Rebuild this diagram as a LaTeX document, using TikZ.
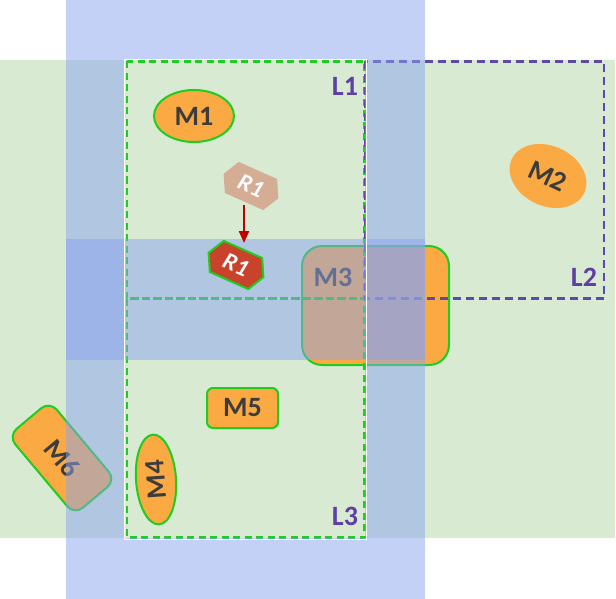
\documentclass[tikz,border=0pt]{standalone}
\usepackage{fontspec}
\setmainfont{Carlito}
\usetikzlibrary{shapes.geometric,arrows.meta}
\definecolor{bggreen}{HTML}{D9EAD3}
\definecolor{bandblue}{HTML}{8AA4EF}
\definecolor{morange}{HTML}{FBA942}
\definecolor{mgreen}{HTML}{1FCC1F}
\definecolor{mtext}{HTML}{3C3C3C}
\definecolor{lpurple}{HTML}{5E3FA3}
\definecolor{ldash}{HTML}{5D4AA8}
\definecolor{rghost}{HTML}{D5AD94}
\definecolor{rred}{HTML}{C9432A}
\definecolor{arrowred}{HTML}{C00000}
\begin{document}
\begin{tikzpicture}[x=1pt,y=-1pt,
  band/.style={fill=bandblue, fill opacity=0.5, draw=none},
  mfont/.style={font=\fontsize{28}{28}\selectfont\bfseries},
  machine/.style={mfont, fill=morange, draw=mgreen, line width=2pt, text=mtext, inner sep=0pt},
  machinenb/.style={mfont, fill=morange, draw=none, text=mtext, inner sep=0pt},
  mlabel/.style={mfont, text=mtext, inner sep=0pt},
  llabel/.style={mfont, text=lpurple, inner sep=0pt},
  greendash/.style={draw=mgreen, line width=2.6pt, dash pattern=on 7pt off 4.5pt},
  purpledash/.style={draw=ldash, line width=2.2pt, dash pattern=on 8pt off 5pt},
  rtext/.style={font=\fontsize{24}{24}\selectfont\bfseries\itshape, text=white, inner sep=0pt},
  redarrow/.style={draw=arrowred, line width=2.2pt, -{Triangle[length=12pt,width=10pt]}}
]
\useasboundingbox (0,0) rectangle (616,599);
% background
\fill[bggreen] (0,60) rectangle (615,538);
% shapes beneath the bands
\node[machine, rectangle, rounded corners=20pt, minimum width=147pt, minimum height=119pt] (m3) at (375.5,305.5) {};
\node[mlabel] (m3label) at (333,277) {M3};
\node[machine, rectangle, rounded corners=11pt, minimum width=103pt, minimum height=54pt, rotate=-50] (m6) at (62,458) {M6};
% dashed zones
\draw[greendash] (127,61.5) rectangle (364.5,298.5);
\draw[greendash] (127,298.5) rectangle (364.5,537.5);
\draw[purpledash] (365,61.5) rectangle (604,298.5);
% blue bands
\fill[band] (66,0) rectangle (425,60);
\fill[band] (66,60) rectangle (125,538);
\fill[band] (365,60) rectangle (425,538);
\fill[band] (66,538) rectangle (425,599);
\fill[band] (66,239) rectangle (425,360);
% white outline of the zone area
\draw[white, line width=1.2pt] (124.8,59.3) rectangle (366.5,539.5);
% machines on top
\node[machine, ellipse, minimum width=80pt, minimum height=52pt] (m1) at (194,116) {M1};
\node[machinenb, ellipse, minimum width=80pt, minimum height=60pt, rotate=-25] (m2) at (548,176) {M2};
\node[machine, ellipse, minimum width=90pt, minimum height=40pt, rotate=94] (m4) at (156,479.5) {M4};
\node[machine, rectangle, rounded corners=6pt, minimum width=71pt, minimum height=40pt] (m5) at (242.5,408) {M5};
% R1 ghost and R1
\begin{scope}[shift={(251,186)}, rotate=-24]
  \fill[rghost] (-30,0) -- (-21,-17) -- (21,-17) -- (30,0) -- (21,17) -- (-21,17) -- cycle;
\end{scope}
\node[rtext, rotate=-24] (r1ghost) at (251,186) {R1};
\begin{scope}[shift={(236,265)}, rotate=-24]
  \filldraw[fill=rred, draw=mgreen, line width=2pt] (-30,0) -- (-21,-17) -- (21,-17) -- (30,0) -- (21,17) -- (-21,17) -- cycle;
\end{scope}
\node[rtext, rotate=-24] (r1) at (236,265) {R1};
\coordinate (arrA) at (244,205);
\coordinate (arrB) at (244,243);
\draw[redarrow] (arrA) -- (arrB);
% zone labels
\node[llabel] (l1) at (345,86) {L1};
\node[llabel] (l2) at (584,277) {L2};
\node[llabel] (l3) at (345,516) {L3};
\end{tikzpicture}
\end{document}
